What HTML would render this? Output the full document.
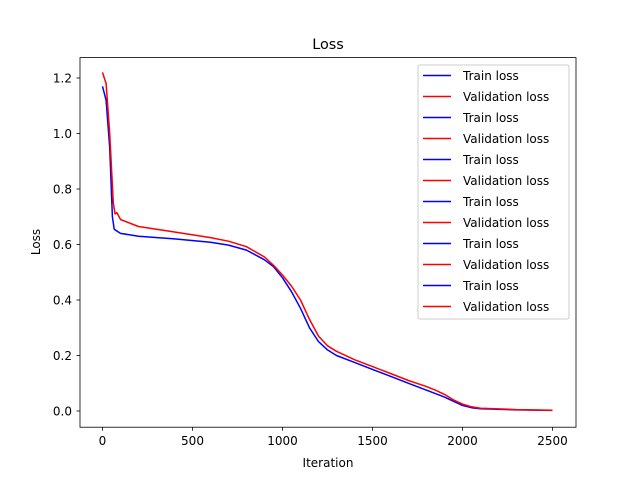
<!DOCTYPE html>
<html><head><meta charset="utf-8"><style>
body{margin:0;background:#fff}
svg text{font-family:"DejaVu Sans","Liberation Sans",sans-serif;fill:#000}
</style></head><body>
<svg id="chart" width="640" height="480">
<rect width="640" height="480" fill="#fff"/>
<text x="328" y="49" font-size="14.4" text-anchor="middle">Loss</text>
<g id="plot"></g>
<rect x="80" y="57.6" width="496" height="369.6" fill="none" stroke="#000" stroke-width="0.8"/>
<g id="xt"></g><g id="yt"></g>
<text x="328" y="467" font-size="12" text-anchor="middle">Iteration</text>
<text transform="translate(40,242) rotate(-90)" font-size="12" text-anchor="middle">Loss</text>
<g id="legend"></g>
</svg>
<script>
const xTicks=[0,500,1000,1500,2000,2500];
const yTicks=[0.0,0.2,0.4,0.6,0.8,1.0,1.2];
const trainX=[0,20,40,55,65,100,200,400,600,700,800,900,950,1000,1050,1100,1150,1200,1250,1300,1400,1500,1600,1700,1800,1900,1950,2000,2050,2100,2300,2500];
const trainY=[1.17,1.12,0.95,0.7,0.655,0.64,0.63,0.62,0.608,0.598,0.58,0.545,0.52,0.48,0.43,0.37,0.3,0.25,0.22,0.2,0.175,0.15,0.125,0.1,0.075,0.05,0.035,0.02,0.012,0.008,0.004,0.002];
const valX=[0,20,40,60,70,80,100,200,400,600,700,800,900,950,1000,1050,1100,1150,1200,1250,1300,1400,1500,1600,1700,1800,1850,1900,1950,2000,2050,2100,2300,2500];
const valY=[1.22,1.18,1.0,0.75,0.71,0.715,0.69,0.665,0.645,0.625,0.612,0.592,0.555,0.525,0.49,0.45,0.4,0.33,0.27,0.235,0.215,0.185,0.16,0.135,0.11,0.088,0.075,0.06,0.04,0.025,0.015,0.01,0.005,0.003];
const legendLabels=["Train loss","Validation loss","Train loss","Validation loss","Train loss","Validation loss","Train loss","Validation loss","Train loss","Validation loss","Train loss","Validation loss"];
const NS="http://www.w3.org/2000/svg";
const sx=v=>102.5+v*0.18;
const sy=v=>411-v*(333/1.2);
function mk(t,a,p){const e=document.createElementNS(NS,t);for(const k in a)e.setAttribute(k,a[k]);p.appendChild(e);return e;}
const xt=document.getElementById('xt'),yt=document.getElementById('yt');
xTicks.forEach(v=>{const x=sx(v);
const l=mk('line',{x1:x,x2:x,y1:427.2,y2:430.7,stroke:'#000','stroke-width':0.8},xt);


const t=mk('text',{x:x,y:445,'font-size':12,'text-anchor':'middle'},xt);t.textContent=v;

});
yTicks.forEach(v=>{const y=sy(v);
const l=mk('line',{x1:76.5,x2:80,y1:y,y2:y,stroke:'#000','stroke-width':0.8},yt);


const t=mk('text',{x:72,y:y+4.5,'font-size':12,'text-anchor':'end'},yt);t.textContent=v.toFixed(1);

});
const plot=document.getElementById('plot');
function line(xs,ys,c,name){const d=xs.map((x,i)=>(i?'L':'M')+sx(x).toFixed(1)+','+sy(ys[i]).toFixed(1)).join('');
const p=mk('path',{d:d,fill:'none',stroke:c,'stroke-width':1.5,'stroke-linejoin':'round'},plot);

}
line(trainX,trainY,'#0000ff','train-loss-line');
line(valX,valY,'#ff0000','validation-loss-line');
const lg=document.getElementById('legend');
const r=mk('rect',{x:418,y:65,width:151,height:254,fill:'#fff','fill-opacity':0.8,stroke:'#ccc',rx:2},lg);


legendLabels.forEach((s,i)=>{const y=75.5+i*21;const c=s[0]=='T'?'#0000ff':'#ff0000';
const l=mk('line',{x1:423,x2:451,y1:y,y2:y,stroke:c,'stroke-width':1.5},lg);


const t=mk('text',{x:463,y:y+4.5,'font-size':12},lg);t.textContent=s;

});
</script>
</body></html>
